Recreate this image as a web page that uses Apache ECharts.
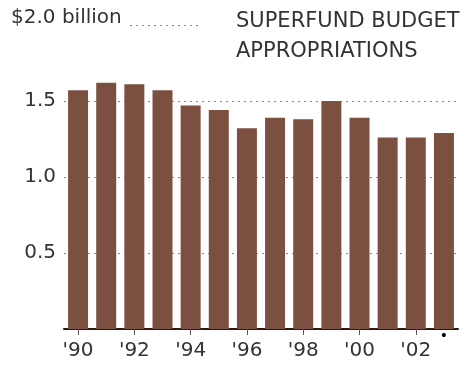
<!DOCTYPE html>
<html>
<head>
<meta charset="utf-8">
<script src="https://cdn.jsdelivr.net/npm/echarts@6/dist/echarts.min.js"></script>
<style>
  html, body { margin: 0; padding: 0; background: #fff; }
  #chart { width: 472px; height: 366px; }
</style>
</head>
<body>
<div id="chart"></div>
<script>
// fiscal years and appropriations ($ billion)
const years = ['1990', '1991', '1992', '1993', '1994', '1995', '1996',
               '1997', '1998', '1999', '2000', '2001', '2002', '2003'];
const yearLabels = ["'90", "'91", "'92", "'93", "'94", "'95", "'96",
                    "'97", "'98", "'99", "'00", "'01", "'02", "'03"];
const budget = [1.57, 1.62, 1.61, 1.57, 1.47, 1.44, 1.32,
                1.39, 1.38, 1.50, 1.39, 1.26, 1.26, 1.29];
const yTicks = [0, 0.5, 1.0, 1.5, 2.0];

const chart = echarts.init(document.getElementById('chart'));
const font = '"DejaVu Sans", sans-serif';

chart.setOption({
  animation: false,
  backgroundColor: '#fff',
  textStyle: { fontFamily: font },
  title: [
    {
      text: '$2.0 billion',
      left: 11, top: 8,
      backgroundColor: '#fff',
      padding: [0, 5, 0, 0],
      textStyle: { fontSize: 20, fontWeight: 'normal', color: '#333', fontFamily: font }
    },
    {
      text: 'SUPERFUND BUDGET\nAPPROPRIATIONS',
      left: 198, top: 7,
      backgroundColor: '#fff',
      padding: [0, 4, 0, 38],
      textStyle: { fontSize: 21, fontWeight: 'normal', color: '#333', lineHeight: 30, fontFamily: font }
    }
  ],
  grid: { left: 64, right: 14, top: 25, bottom: 37 },
  xAxis: {
    type: 'category',
    data: yearLabels,
    axisLine: { lineStyle: { color: '#2a1a14', width: 2 } },
    axisTick: { show: true, interval: 1, alignWithLabel: true, length: 6, lineStyle: { color: '#555' } },
    axisLabel: { interval: 1, fontSize: 20, color: '#333', margin: 12 }
  },
  yAxis: {
    type: 'value',
    min: 0, max: 2.0, interval: 0.5,
    axisLine: { show: false },
    axisTick: { show: false },
    axisLabel: {
      fontSize: 20, color: '#333', margin: 8, padding: [0, 0, 6, 0],
      formatter: v => (v >= 2 || v === 0) ? '' : v.toFixed(1)
    },
    splitLine: {
      show: true,
      lineStyle: { color: '#888', type: [2, 4], width: 1 }
    }
  },
  series: [{
    type: 'bar',
    data: budget.map((v, i) => i === budget.length - 1
      ? { value: v, label: { show: true, position: 'bottom', formatter: '•', color: '#000', fontSize: 14, distance: 0 } }
      : v),
    barCategoryGap: '29%',
    itemStyle: { color: '#7b5040' },
    z: 3
  }]
});
</script>
</body>
</html>
